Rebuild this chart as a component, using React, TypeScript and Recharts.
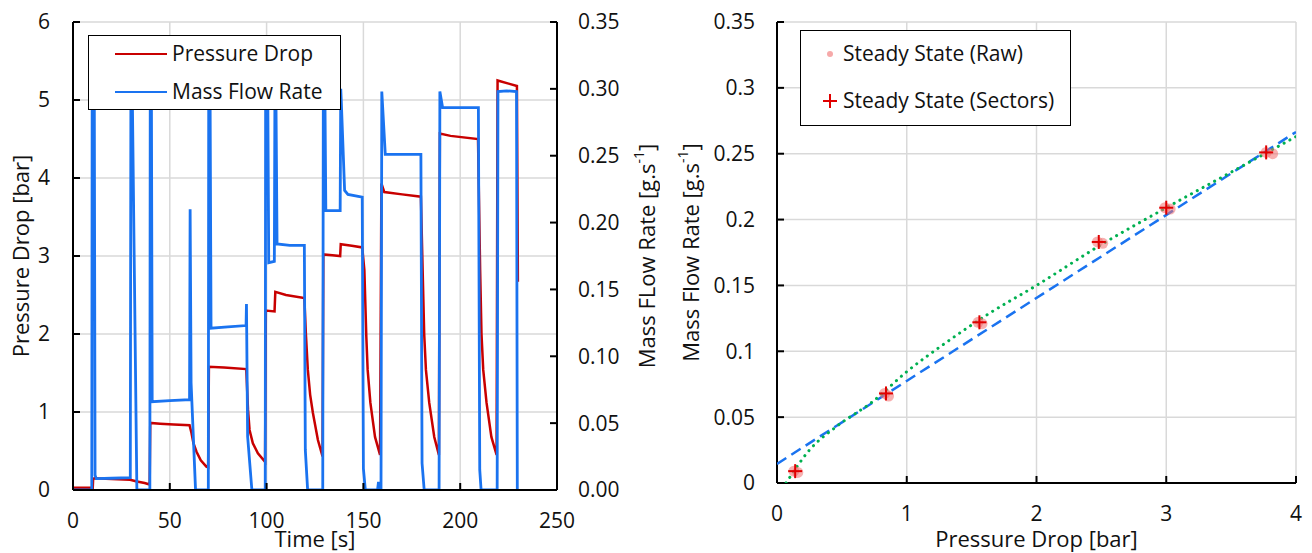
import {
  LineChart,
  Line,
  XAxis,
  YAxis,
  CartesianGrid,
  Legend,
  ScatterChart,
  Scatter,
} from "recharts"

const FONT = "'Open Sans', sans-serif"
const RED = "#c80000"
const BLUE = "#1a73f0"
const GREEN = "#00b050"
const GRID = "#d9d9d9"
const INK = "#111"

// left panel: pressure drop [bar] against time [s]
const pressureTime = [
  0, 10.2, 10.4, 11, 20, 29.5, 33, 37, 39.6, 39.9, 45, 52, 60.2, 61.2, 62.2, 63.8, 66, 68.9, 69.8,
  70.2, 78, 89.5, 90.4, 91.2, 92.9, 95.5, 99.2, 99.6, 104.1, 104.5, 110, 119.5, 120.3, 121.3, 122.5,
  123.9, 126.5, 128.9, 129.3, 134, 138, 138.3, 144, 149.4, 150.5, 151.5, 152.2, 153.6, 156, 158.6,
  159.3, 160.8, 170, 179.7, 180.6, 181.4, 182.3, 184, 186.6, 189, 189.5, 195, 209.2, 210.3, 211,
  211.9, 213.6, 216.1, 218.8, 219.3, 225, 229.3, 229.8,
]
const pressureBar = [
  0.03, 0.03, 0.14, 0.15, 0.14, 0.13, 0.11, 0.09, 0.07, 0.86, 0.85, 0.84, 0.83, 0.73, 0.6, 0.49, 0.38, 0.3, 0.29,
  1.58, 1.57, 1.55, 1.03, 0.77, 0.6, 0.47, 0.36, 2.3, 2.29, 2.54, 2.5, 2.46, 2.0, 1.54, 1.22,
  0.99, 0.64, 0.43, 3.02, 3.01, 3.0, 3.15, 3.13, 3.11, 2.82, 1.97, 1.54, 1.12, 0.68, 0.45,
  3.93, 3.82, 3.79, 3.76, 2.82, 2.0, 1.54, 1.12, 0.68, 0.45, 4.57, 4.54, 4.5, 2.82, 2.0,
  1.54, 1.12, 0.68, 0.45, 5.25, 5.21, 5.18, 2.67,
]

// left panel: mass flow rate [g/s] against time [s]
const flowTime = [
  0, 9.7, 9.9, 11, 11.4, 12, 20, 29.6, 29.9, 30.6, 33, 39.7, 39.9, 40.5, 40.9, 50, 60.2, 60.5, 61,
  63.3, 69.9, 70.1, 70.8, 71.3, 80, 89.4, 89.6, 90.2, 92.4, 99.3, 99.5, 100.6, 101.1, 104, 104.3,
  104.8, 105.4, 112, 119.5, 120, 121.2, 129, 129.3, 130.1, 130.6, 138, 138.3, 138.6, 140.3, 142,
  149.4, 150, 151, 157.3, 157.8, 158.3, 159.1, 159.5, 161.3, 170, 179.7, 180.3, 181.4, 189.1,
  189.5, 190.9, 200, 209.4, 210.1, 210.8, 219.1, 219.5, 224, 229.1, 229.5,
]
const flowRate = [
  0, 0, 0.3, 0.3, 0.011, 0.0085, 0.0088, 0.0092, 0.3, 0.3, 0, 0, 0.3, 0.3, 0.066, 0.0668, 0.0675, 0.21, 0.08,
  0, 0, 0.3, 0.3, 0.121, 0.122, 0.123, 0.139, 0.04, 0, 0, 0.3, 0.3, 0.17, 0.171, 0.3,
  0.3, 0.184, 0.183, 0.183, 0.03, 0, 0, 0.3, 0.3, 0.209, 0.209, 0.3, 0.29, 0.224, 0.221,
  0.219, 0.016, 0, 0, 0.006, 0, 0, 0.298, 0.251, 0.251, 0.251, 0.02, 0, 0,
  0.298, 0.286, 0.286, 0.286, 0.015, 0, 0, 0.298, 0.2985, 0.298, 0,
]

const timeTicks = [0, 50, 100, 150, 200, 250]
const barTicks = [0, 1, 2, 3, 4, 5, 6]
const flowTicks = [0, 0.05, 0.1, 0.15, 0.2, 0.25, 0.3, 0.35]

// right panel: steady-state points and fits
const sectorDrop = [0.14, 0.84, 1.56, 2.48, 3.0, 3.77]
const sectorFlow = [0.009, 0.068, 0.122, 0.183, 0.209, 0.251]
const rawDrop = [0.13, 0.16, 0.83, 0.86, 1.55, 1.58, 2.47, 2.51, 2.99, 3.03, 3.77, 3.82]
const rawFlow = [0.009, 0.008, 0.068, 0.066, 0.122, 0.121, 0.183, 0.182, 0.209, 0.208, 0.251, 0.25]
const linFitDrop = [0, 4]
const linFitFlow = [0.0145, 0.2665]
const powFitDrop = [0.07, 0.25, 0.46, 0.74, 1.0, 1.28, 1.64, 2.0, 2.5, 3.0, 3.5, 4.0]
const powFitFlow = [0, 0.025, 0.043, 0.062, 0.0845, 0.105, 0.129, 0.15, 0.181, 0.209, 0.236, 0.263]
const dropTicks = [0, 1, 2, 3, 4]

const pressureData = pressureTime.map((t, i) => ({ t, p: pressureBar[i] }))
const flowData = flowTime.map((t, i) => ({ t, m: flowRate[i] }))
const sectorData = sectorDrop.map((x, i) => ({ x, y: sectorFlow[i] }))
const rawData = rawDrop.map((x, i) => ({ x, y: rawFlow[i] }))
const linFitData = linFitDrop.map((x, i) => ({ x, y: linFitFlow[i] }))
const powFitData = powFitDrop.map((x, i) => ({ x, y: powFitFlow[i] }))

const tickStyle = { fill: INK, fontSize: 21, fontFamily: FONT }
const axisStyle = { stroke: "#000", strokeWidth: 2 }

function SideLabel({ viewBox, at, text, sup }: any) {
  const cx = viewBox.x + at
  const cy = viewBox.y + viewBox.height / 2
  return (
    <text
      x={cx}
      y={cy}
      transform={`rotate(-90 ${cx} ${cy})`}
      textAnchor="middle"
      dominantBaseline="central"
      fill={INK}
      fontSize={22}
      fontFamily={FONT}
    >
      {text}
      {sup && (
        <>
          <tspan dy={-8} fontSize={14}>{sup}</tspan>
          <tspan dy={8}>]</tspan>
        </>
      )}
    </text>
  )
}

function BottomLabel({ viewBox, text, dy, dx = 0 }: any) {
  return (
    <text
      x={viewBox.x + viewBox.width / 2 + dx}
      y={viewBox.y + dy}
      textAnchor="middle"
      fill={INK}
      fontSize={22}
      fontFamily={FONT}
    >
      {text}
    </text>
  )
}

const PlusMark = ({ cx, cy }: any) => (
  <g>
    <line x1={cx - 7} x2={cx + 7} y1={cy} y2={cy} stroke="#e00000" strokeWidth={2} />
    <line x1={cx} x2={cx} y1={cy - 7} y2={cy + 7} stroke="#e00000" strokeWidth={2} />
  </g>
)

const RawDot = ({ cx, cy }: any) => <circle cx={cx} cy={cy} r={5.5} fill="#f07070" fillOpacity={0.55} />

const NoMark = () => <g />

function TraceLegend() {
  const items = [
    { name: "Pressure Drop", color: RED, y: 18 },
    { name: "Mass Flow Rate", color: BLUE, y: 56 },
  ]
  return (
    <div
      style={{
        position: "relative",
        width: 253,
        height: 75,
        boxSizing: "border-box",
        border: "1.5px solid #000",
        background: "#fff",
        fontFamily: FONT,
        fontSize: 21,
        color: INK,
      }}
    >
      {items.map((it) => (
        <div key={it.name}>
          <div style={{ position: "absolute", left: 26, top: it.y - 1.5, width: 52, height: 2.5, background: it.color }} />
          <div style={{ position: "absolute", left: 83, top: it.y - 15, lineHeight: "28px", whiteSpace: "nowrap" }}>
            {it.name}
          </div>
        </div>
      ))}
    </div>
  )
}

function SteadyLegend() {
  return (
    <div
      style={{
        position: "relative",
        width: 271,
        height: 96,
        boxSizing: "border-box",
        border: "1.5px solid #000",
        background: "#fff",
        fontFamily: FONT,
        fontSize: 21,
        color: INK,
      }}
    >
      <svg style={{ position: "absolute", left: 0, top: 0 }} width={60} height={96}>
        <circle cx={29} cy={23} r={3} fill="#f07070" fillOpacity={0.6} />
        <line x1={22} x2={36} y1={70} y2={70} stroke="#e00000" strokeWidth={2} />
        <line x1={29} x2={29} y1={63} y2={77} stroke="#e00000" strokeWidth={2} />
      </svg>
      <div style={{ position: "absolute", left: 42, top: 8, lineHeight: "28px", whiteSpace: "nowrap" }}>
        Steady State (Raw)
      </div>
      <div style={{ position: "absolute", left: 42, top: 55, lineHeight: "28px", whiteSpace: "nowrap" }}>
        Steady State (Sectors)
      </div>
    </div>
  )
}

export default function App() {
  return (
    <div style={{ position: "absolute", left: 0, top: 0, width: 1312, height: 553, background: "#fff" }}>
      {/* Transient trace */}
      <div style={{ position: "absolute", left: 0, top: 0 }}>
        <LineChart width={660} height={553} margin={{ top: 22, right: 0, bottom: 0, left: 0 }}>
          <CartesianGrid yAxisId="p" stroke={GRID} strokeWidth={1.5} />
          <XAxis
            type="number"
            dataKey="t"
            domain={[0, 250]}
            ticks={timeTicks}
            allowDataOverflow
            height={63}
            axisLine={axisStyle}
            tickLine={axisStyle}
            tickSize={-7}
            tickMargin={30}
            tick={tickStyle}
            label={(p: any) => <BottomLabel viewBox={p.viewBox} text="Time [s]" dy={57} />}
          />
          <YAxis
            yAxisId="p"
            orientation="left"
            type="number"
            domain={[0, 6]}
            ticks={barTicks}
            allowDataOverflow
            width={73}
            axisLine={axisStyle}
            tickLine={axisStyle}
            tickSize={-7}
            tickMargin={30}
            tick={tickStyle}
            label={(p: any) => <SideLabel viewBox={p.viewBox} at={20} text="Pressure Drop [bar]" />}
          />
          <YAxis
            yAxisId="m"
            orientation="right"
            type="number"
            domain={[0, 0.35]}
            ticks={flowTicks}
            allowDataOverflow
            width={103}
            axisLine={axisStyle}
            tickLine={axisStyle}
            tickSize={-7}
            tickMargin={28}
            tick={tickStyle}
            tickFormatter={(v: number) => v.toFixed(2)}
            label={(p: any) => <SideLabel viewBox={p.viewBox} at={89} text="Mass FLow Rate [g.s" sup="-1" />}
          />
          <Line
            yAxisId="p"
            data={pressureData}
            dataKey="p"
            name="Pressure Drop"
            type="linear"
            stroke={RED}
            strokeWidth={2.5}
            dot={false}
            isAnimationActive={false}
          />
          <Line
            yAxisId="m"
            data={flowData}
            dataKey="m"
            name="Mass Flow Rate"
            type="linear"
            stroke={BLUE}
            strokeWidth={2.8}
            dot={false}
            isAnimationActive={false}
          />
          <Legend
            layout="vertical"
            align="center"
            verticalAlign="middle"
            content={() => <TraceLegend />}
            wrapperStyle={{ left: 88, top: 35, width: 253, height: 75 }}
          />
        </LineChart>
      </div>

      {/* Steady state */}
      <div style={{ position: "absolute", left: 660, top: 0 }}>
        <ScatterChart width={652} height={553} margin={{ top: 22, right: 16, bottom: 0, left: 0 }}>
          <CartesianGrid stroke={GRID} strokeWidth={1.5} />
          <XAxis
            type="number"
            dataKey="x"
            domain={[0, 4]}
            ticks={dropTicks}
            allowDataOverflow
            height={70}
            axisLine={axisStyle}
            tickLine={axisStyle}
            tickSize={-7}
            tickMargin={30}
            tick={tickStyle}
            label={(p: any) => <BottomLabel viewBox={p.viewBox} text="Pressure Drop [bar]" dy={64} />}
          />
          <YAxis
            type="number"
            dataKey="y"
            domain={[0, 0.35]}
            ticks={flowTicks}
            allowDataOverflow
            width={117}
            axisLine={axisStyle}
            tickLine={axisStyle}
            tickSize={-7}
            tickMargin={29}
            tick={tickStyle}
            tickFormatter={(v: number) => String(+v.toFixed(2))}
            label={(p: any) => <SideLabel viewBox={p.viewBox} at={30} text="Mass Flow Rate [g.s" sup="-1" />}
          />
          <Scatter
            name="Linear fit"
            data={linFitData}
            line={{ stroke: BLUE, strokeWidth: 2.5, strokeDasharray: "11 6" }}
            shape={NoMark}
            isAnimationActive={false}
          />
          <Scatter
            name="Power fit"
            data={powFitData}
            line={{ stroke: GREEN, strokeWidth: 3, strokeDasharray: "0.1 6.5", strokeLinecap: "round" }}
            lineJointType="monotoneX"
            shape={NoMark}
            isAnimationActive={false}
          />
          <Scatter name="Steady State (Raw)" data={rawData} shape={RawDot} isAnimationActive={false} />
          <Scatter name="Steady State (Sectors)" data={sectorData} shape={PlusMark} isAnimationActive={false} />
          <Legend
            layout="vertical"
            align="center"
            verticalAlign="middle"
            content={() => <SteadyLegend />}
            wrapperStyle={{ left: 140, top: 30, width: 271, height: 96 }}
          />
        </ScatterChart>
      </div>
    </div>
  )
}
